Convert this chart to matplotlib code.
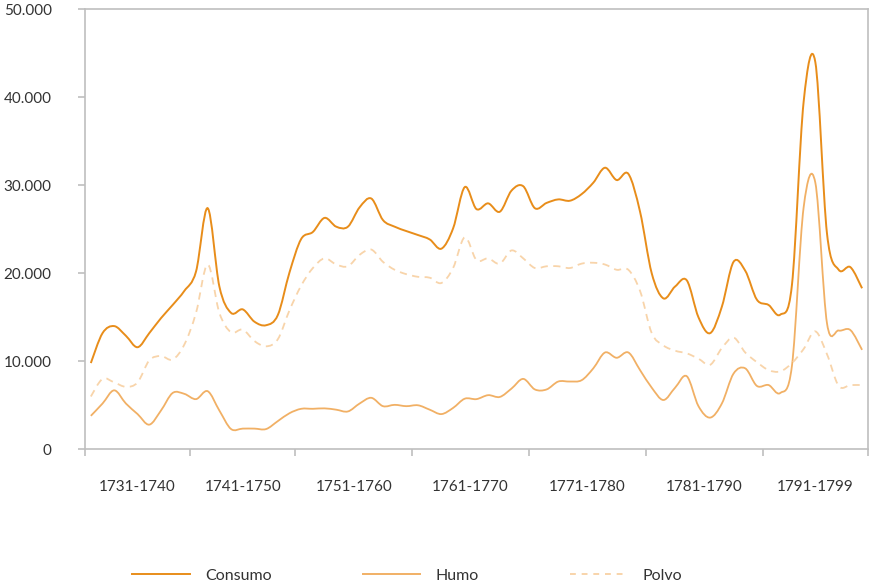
import matplotlib
matplotlib.use("Agg")
import matplotlib.pyplot as plt
from matplotlib.path import Path
from matplotlib.patches import PathPatch
from matplotlib.lines import Line2D
from matplotlib.ticker import FuncFormatter, FixedLocator
import numpy as np

# decades shown on the x axis and number of yearly values in each
decades = ["1731-1740", "1741-1750", "1751-1760", "1761-1770",
           "1771-1780", "1781-1790", "1791-1799"]
decade_sizes = [9, 9, 10, 10, 10, 10, 9]

consumo = [9800, 13200, 14000, 12900, 11600, 13200, 14900, 16400, 18000,
           20200, 27400, 18500, 15500, 15900, 14500, 14100, 15250, 20100,
           23900, 24700, 26300, 25300, 25300, 27500, 28500, 26050, 25300, 24800,
           24350, 23850, 22800, 25100, 29800, 27300, 27950, 27000, 29400, 29900,
           27400, 28000, 28400, 28250, 29000, 30300, 32000, 30600, 31300, 27000,
           20000, 17150, 18500, 19200, 15000, 13200, 16200, 21300, 20300, 17000,
           16400, 15300, 18700, 39500, 44000, 24500, 20400, 20700, 18300]

humo = [3800, 5200, 6700, 5200, 4000, 2800, 4400, 6400, 6300,
        5700, 6600, 4400, 2300, 2350, 2350, 2300, 3200, 4100,
        4600, 4600, 4650, 4500, 4300, 5200, 5850, 4900, 5050, 4900,
        5000, 4500, 4000, 4700, 5750, 5700, 6150, 5950, 6900, 8000,
        6800, 6800, 7700, 7700, 7850, 9200, 11000, 10400, 11000, 9000,
        7000, 5600, 7000, 8300, 4900, 3600, 5200, 8600, 9200, 7200,
        7300, 6400, 9500, 27500, 30300, 14300, 13500, 13550, 11300]

polvo = [6000, 8000, 7600, 7100, 7600, 10100, 10600, 10200, 11900,
         15500, 21000, 15500, 13300, 13600, 12300, 11700, 12500, 15800,
         18600, 20600, 21700, 21000, 20800, 22100, 22700, 21300, 20400, 19900,
         19600, 19500, 18900, 20600, 24100, 21500, 21700, 21100, 22600, 21700,
         20600, 20800, 20800, 20600, 21100, 21200, 21000, 20400, 20400, 18000,
         13200, 11800, 11200, 10900, 10300, 9600, 11500, 12700, 11000, 9900,
         9000, 8850, 9800, 11400, 13400, 10800, 7200, 7300, 7300]

c_consumo = "#E88D1A"
c_humo = "#F1B065"
c_polvo = "#F8D4AA"
grey = "#BFBFBF"


def smooth_path(xs, ys):
    # cubic bezier through every point (like a spreadsheet "smoothed line")
    pts = np.column_stack([xs, ys]).astype(float)
    n = len(pts)
    verts = [pts[0]]
    codes = [Path.MOVETO]
    for i in range(n - 1):
        p0 = pts[i - 1] if i > 0 else pts[i]
        p1 = pts[i]
        p2 = pts[i + 1]
        p3 = pts[i + 2] if i + 2 < n else pts[i + 1]
        verts += [p1 + (p2 - p0) / 6.0, p2 - (p3 - p1) / 6.0, p2]
        codes += [Path.CURVE4] * 3
    return Path(verts, codes)


plt.rcParams['font.family'] = ['Lato', 'DejaVu Sans']

fig = plt.figure(figsize=(8.7, 5.85), dpi=100)
ax = fig.add_axes([0.0977, 0.232, 0.8999, 0.752])

x = np.arange(len(consumo))
series = [(consumo, c_consumo, "-", 1.4),
          (humo, c_humo, "-", 1.3),
          (polvo, c_polvo, (0, (4, 3)), 1.3)]
for vals, col, ls, lw in series:
    ax.add_patch(PathPatch(smooth_path(x, vals), fill=False, edgecolor=col,
                           linestyle=ls, linewidth=lw, capstyle="butt"))

bounds = np.concatenate([[0], np.cumsum(decade_sizes)]) - 0.5
centers = (bounds[:-1] + bounds[1:]) / 2
ax.set_xlim(bounds[0], bounds[-1])
ax.set_ylim(0, 50000)

ax.xaxis.set_major_locator(FixedLocator(bounds))
ax.xaxis.set_major_formatter(FuncFormatter(lambda v, p: ""))
ax.set_xticks(centers, decades, minor=True)
ax.tick_params(axis="x", which="major", length=5, color=grey, width=1.2)
ax.tick_params(axis="x", which="minor", length=0, pad=22, labelsize=11,
               labelcolor="#333333")

ax.set_yticks(np.arange(0, 50001, 10000))
ax.yaxis.set_major_formatter(FuncFormatter(lambda v, p: f"{int(v):,}".replace(",", ".")))
ax.tick_params(axis="y", length=5, color=grey, width=1.2, pad=19,
               labelsize=11, labelcolor="#333333")

for s in ax.spines.values():
    s.set_color(grey)
    s.set_linewidth(1.2)

handles = [Line2D([], [], color=c_consumo, lw=1.4),
           Line2D([], [], color=c_humo, lw=1.4),
           Line2D([], [], color=c_polvo, lw=1.4, linestyle=(0, (3, 3)))]
fig.legend(handles, ["Consumo", "Humo", "Polvo"], loc="center",
           bbox_to_anchor=(0.468, 0.016), ncol=3, frameon=False,
           fontsize=11.5, handlelength=3.6, handletextpad=0.95,
           columnspacing=5.7, labelcolor="#333333")

fig.savefig("out.png", dpi=100)
